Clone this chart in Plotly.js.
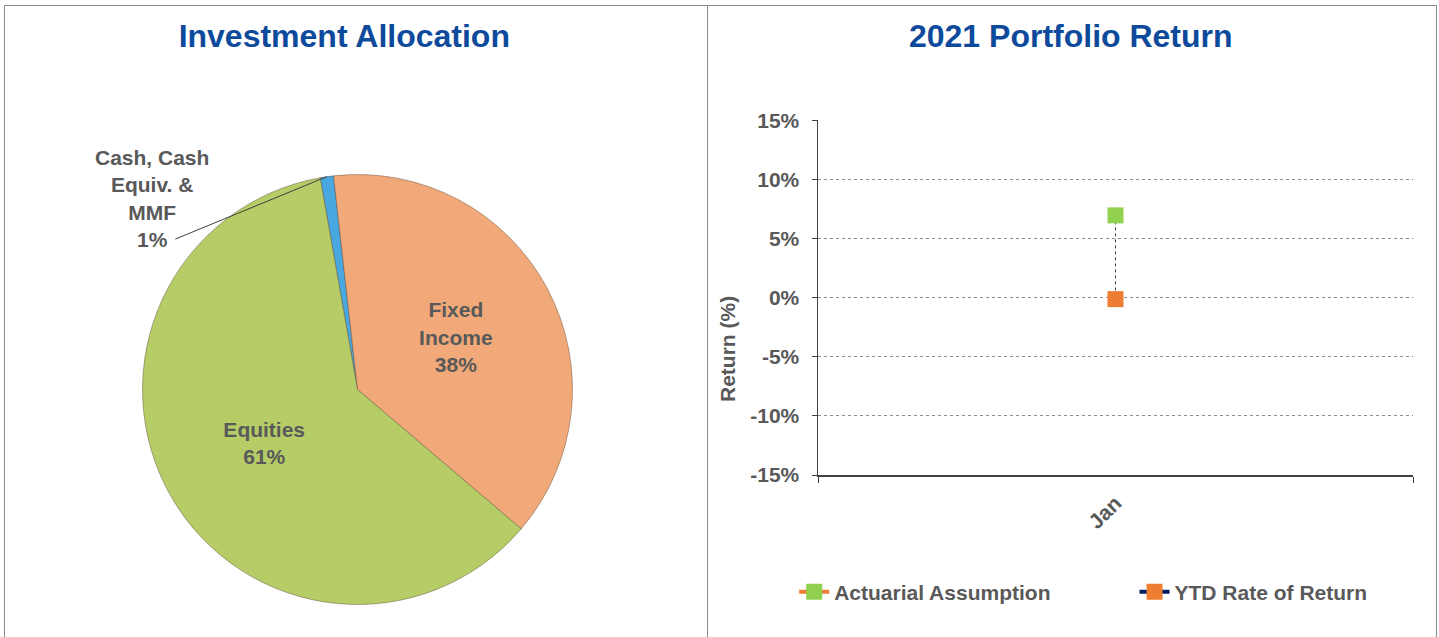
<!DOCTYPE html>
<html>
<head>
<meta charset="utf-8">
<script src="https://cdn.plot.ly/plotly-3.0.1.min.js"></script>
<style>
  html, body { margin: 0; padding: 0; background: #ffffff; width: 1439px; height: 637px; overflow: hidden; }
  #left { position: absolute; left: 4px; top: 5px; width: 704px; height: 632px; border-left: 1.5px solid #8a8a8a; border-top: 1.5px solid #8a8a8a; border-right: 1.5px solid #8a8a8a; box-sizing: border-box; }
  #right { position: absolute; left: 708px; top: 5px; width: 729px; height: 632px; border-top: 1.5px solid #8a8a8a; border-right: 1.5px solid #8a8a8a; box-sizing: border-box; }
</style>
</head>
<body>
<div id="left"></div>
<div id="right"></div>
<script>
// ---- Data: Investment Allocation ----
const allocLabels = ['Cash, Cash<br>Equiv. &<br>MMF', 'Fixed<br>Income', 'Equities'];
const allocValues = [1, 38, 61];
const allocColors = ['#4aa8e0', '#f2a97a', '#b5cc67'];

// ---- Data: 2021 Portfolio Return ----
const months = ['Jan'];
const actuarialAssumption = [7];
const ytdReturn = [-0.1];
const yTickVals = [-15, -10, -5, 0, 5, 10, 15];

const FONT = 'Liberation Sans, Arial, sans-serif';
const GRAY = '#595959';
const TITLE_BLUE = '#0d4a9c';
const FS = 21;

// ---------- Left: pie ----------
const W1 = 701, H1 = 630;
const pieTrace = {
  type: 'pie',
  labels: allocLabels,
  values: allocValues,
  sort: false,
  direction: 'clockwise',
  rotation: -10,
  marker: { colors: allocColors, line: { color: 'rgba(90,70,50,0.55)', width: 0.8 } },
  texttemplate: allocLabels.map((l, i) => i === 0 ? '' : '%{label}<br>%{value}%'),
  textposition: 'inside',
  insidetextorientation: 'horizontal',
  textfont: { family: FONT, size: FS, color: GRAY, weight: 'bold' },
  showlegend: false,
  hoverinfo: 'none',
  automargin: false,
  domain: { x: [137.5/W1, 567.5/W1], y: [1 - 598.5/H1, 1 - 168.5/H1] }
};

const leftLayout = {
  width: W1, height: H1,
  margin: { l: 0, r: 0, t: 0, b: 0 },
  paper_bgcolor: 'rgba(0,0,0,0)',
  plot_bgcolor: 'rgba(0,0,0,0)',
  title: {
    text: '<b>Investment Allocation</b>',
    font: { family: FONT, size: 32, color: TITLE_BLUE },
    x: 0.484, xanchor: 'center', xref: 'container',
    y: 1 - 30/H1, yanchor: 'middle', yref: 'container'
  },
  annotations: [
    {
      xref: 'paper', yref: 'paper',
      x: 147/W1, y: 1 - 192/H1,
      text: '<b>' + allocLabels[0] + '<br>' + allocValues[0] + '%</b>',
      showarrow: false,
      font: { family: FONT, size: FS, color: GRAY },
      align: 'center', xanchor: 'center', yanchor: 'middle'
    },
    {
      xref: 'paper', yref: 'paper',
      x: 321.8/W1, y: 1 - 170.7/H1,
      ax: -153, ay: 63,
      text: '',
      showarrow: true, arrowhead: 0, arrowwidth: 1, arrowcolor: '#404040'
    }
  ]
};

Plotly.newPlot('left', [pieTrace], leftLayout, { staticPlot: true, displayModeBar: false });

// ---------- Right: return chart ----------
const W2 = 727, H2 = 630;
const hiLow = {
  type: 'scatter', mode: 'lines',
  x: [months[0], months[0]],
  y: [actuarialAssumption[0], ytdReturn[0]],
  line: { color: '#404040', width: 1, dash: 'dot' },
  showlegend: false, hoverinfo: 'skip'
};
const actTrace = {
  type: 'scatter', mode: 'lines+markers', name: 'Actuarial Assumption',
  x: months, y: actuarialAssumption,
  line: { color: '#ed7d31', width: 4 },
  marker: { symbol: 'square', size: 16, color: '#92d050' },
  legend: 'legend'
};
const ytdTrace = {
  type: 'scatter', mode: 'lines+markers', name: 'YTD Rate of Return',
  x: months, y: ytdReturn,
  line: { color: '#002060', width: 4 },
  marker: { symbol: 'square', size: 16, color: '#ed7d31' },
  legend: 'legend2'
};

const legendCommon = {
  orientation: 'h',
  xanchor: 'left',
  y: -0.33, yanchor: 'middle',
  font: { family: FONT, size: FS, color: GRAY, weight: 'bold' },
  bgcolor: 'rgba(0,0,0,0)'
};

const rightLayout = {
  width: W2, height: H2,
  margin: { l: 110, r: 22, t: 114, b: 161 },
  paper_bgcolor: 'rgba(0,0,0,0)',
  plot_bgcolor: 'rgba(0,0,0,0)',
  title: {
    text: '<b>2021 Portfolio Return</b>',
    font: { family: FONT, size: 32, color: TITLE_BLUE },
    x: 0.499, xanchor: 'center', xref: 'container',
    y: 1 - 30/H2, yanchor: 'middle', yref: 'container'
  },
  xaxis: {
    type: 'category',
    categoryorder: 'array', categoryarray: months,
    range: [-0.5, 0.5],
    tickson: 'boundaries',
    ticks: 'outside', ticklen: 6, tickcolor: '#404040', tickwidth: 1,
    showline: true, linecolor: '#404040', linewidth: 1.5,
    showgrid: false, zeroline: false,
    tickangle: -45,
    ticklabelstandoff: 6,
    tickfont: { family: FONT, size: FS, color: GRAY, weight: 'bold' }
  },
  yaxis: {
    range: [-15, 15.08],
    tickvals: yTickVals,
    ticktext: yTickVals.map(v => v + '%'),
    ticks: 'outside', ticklen: 5, tickcolor: '#404040', tickwidth: 1,
    ticklabelstandoff: 8,
    showline: true, linecolor: '#404040', linewidth: 1.5,
    showgrid: true, gridcolor: '#8c8c8c', gridwidth: 1, griddash: 'dot',
    zeroline: false,
    tickfont: { family: FONT, size: FS, color: GRAY, weight: 'bold' }
  },
  annotations: [
    {
      xref: 'paper', yref: 'paper',
      x: (19 - 110) / (W2 - 110 - 22), y: (469 - 343) / 355,
      text: '<b>Return (%)</b>', textangle: -90, showarrow: false,
      font: { family: FONT, size: FS, color: GRAY },
      xanchor: 'center', yanchor: 'middle'
    }
  ],
  legend: Object.assign({}, legendCommon, { x: -0.04 }),
  legend2: Object.assign({}, legendCommon, { x: 0.532 }),
  showlegend: true
};

Plotly.newPlot('right', [hiLow, actTrace, ytdTrace], rightLayout, { staticPlot: true, displayModeBar: false });
</script>
</body>
</html>
